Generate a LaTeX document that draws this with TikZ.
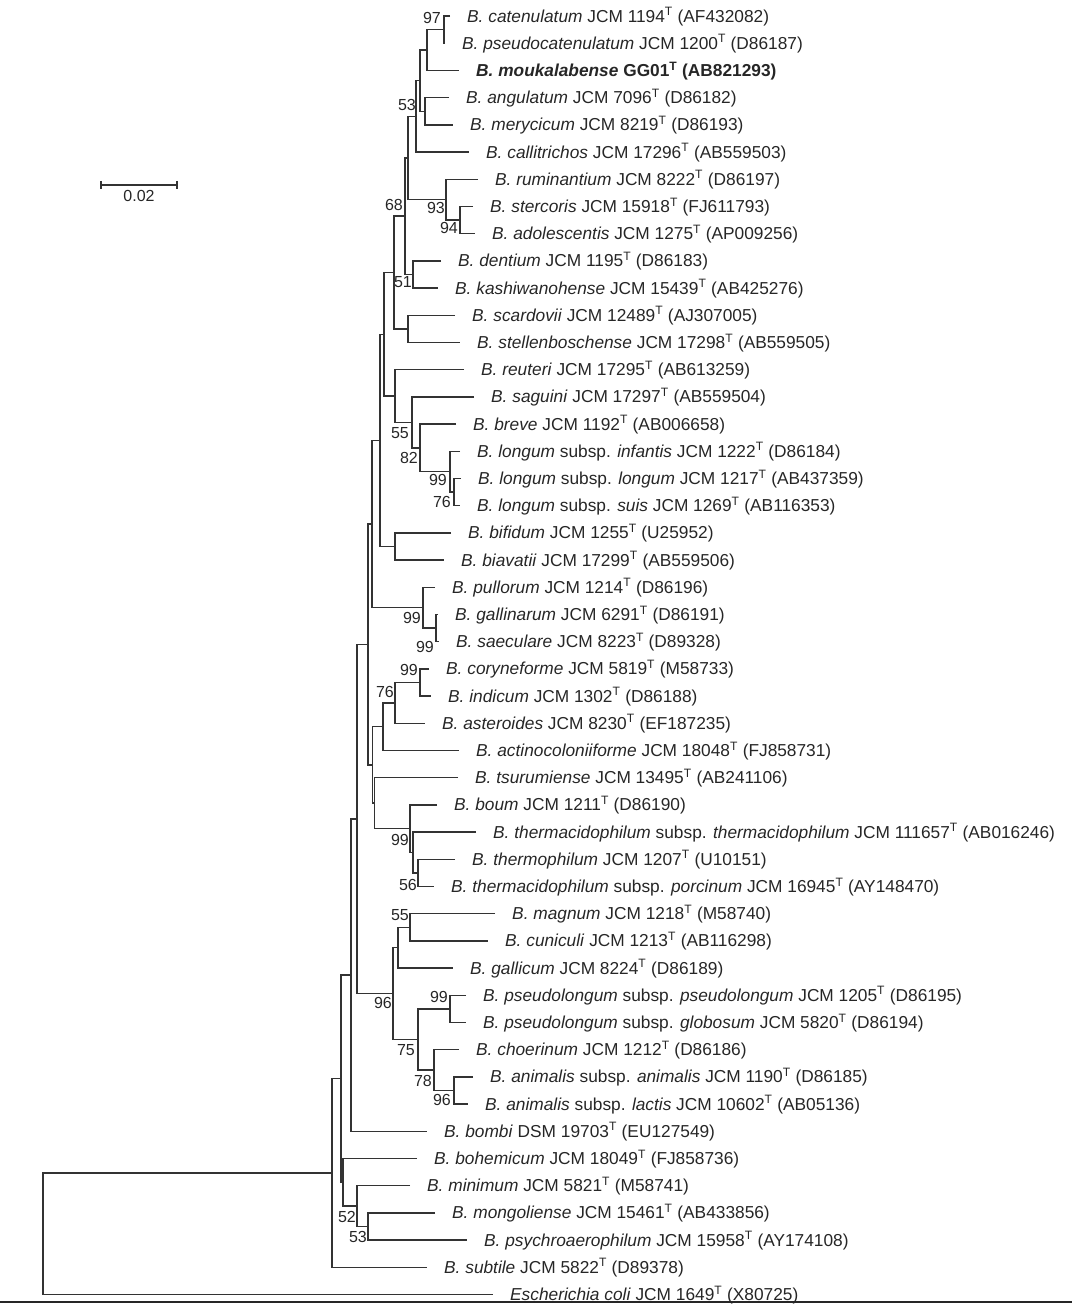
\documentclass[tikz,border=0pt]{standalone}
\usepackage{fontspec}
\setmainfont{Liberation Sans}
\usepackage{tikz}
\usetikzlibrary{positioning}
\tikzstyle{leaf} = [anchor=west, inner xsep=17pt, inner ysep=0pt, text height=12pt, text depth=0pt, font=\fontsize{17.3}{19}\selectfont, text=black!85]
\tikzstyle{bs} = [anchor=east, inner sep=0pt, font=\fontsize{16}{18}\selectfont, text=black!85]
\tikzstyle{branch} = [line width=1.4pt, draw=black!80]
\newcommand{\ty}{\textsuperscript{T}}

\begin{document}
\begin{tikzpicture}[x=1pt, y=-27.2pt]

\path [use as bounding box] (0,0.4118) rectangle (1072,48.426);

% leaves
\node (cat) [leaf] at (450,1) {\textit{B. catenulatum} JCM 1194\ty{} (AF432082)};
\node (pcat) [leaf] at (445,2) {\textit{B. pseudocatenulatum} JCM 1200\ty{} (D86187)};
\node (mouk) [leaf] at (459,3) {\textbf{\textit{B. moukalabense} GG01\ty{} (AB821293)}};
\node (ang) [leaf] at (449,4) {\textit{B. angulatum} JCM 7096\ty{} (D86182)};
\node (mery) [leaf] at (453,5) {\textit{B. merycicum} JCM 8219\ty{} (D86193)};
\node (call) [leaf] at (469,6) {\textit{B. callitrichos} JCM 17296\ty{} (AB559503)};
\node (rum) [leaf] at (478,7) {\textit{B. ruminantium} JCM 8222\ty{} (D86197)};
\node (ster) [leaf] at (473,8) {\textit{B. stercoris} JCM 15918\ty{} (FJ611793)};
\node (adol) [leaf] at (475,9) {\textit{B. adolescentis} JCM 1275\ty{} (AP009256)};
\node (dent) [leaf] at (441,10) {\textit{B. dentium} JCM 1195\ty{} (D86183)};
\node (kash) [leaf] at (438,11) {\textit{B. kashiwanohense} JCM 15439\ty{} (AB425276)};
\node (scard) [leaf] at (455,12) {\textit{B. scardovii} JCM 12489\ty{} (AJ307005)};
\node (stell) [leaf] at (460,13) {\textit{B. stellenboschense} JCM 17298\ty{} (AB559505)};
\node (reut) [leaf] at (464,14) {\textit{B. reuteri} JCM 17295\ty{} (AB613259)};
\node (sagu) [leaf] at (474,15) {\textit{B. saguini} JCM 17297\ty{} (AB559504)};
\node (breve) [leaf] at (456,16) {\textit{B. breve} JCM 1192\ty{} (AB006658)};
\node (linf) [leaf] at (460,17) {\textit{B. longum} subsp. \textit{infantis} JCM 1222\ty{} (D86184)};
\node (llon) [leaf] at (461,18) {\textit{B. longum} subsp. \textit{longum} JCM 1217\ty{} (AB437359)};
\node (lsuis) [leaf] at (460,19) {\textit{B. longum} subsp. \textit{suis} JCM 1269\ty{} (AB116353)};
\node (bifid) [leaf] at (451,20) {\textit{B. bifidum} JCM 1255\ty{} (U25952)};
\node (biav) [leaf] at (444,21) {\textit{B. biavatii} JCM 17299\ty{} (AB559506)};
\node (pull) [leaf] at (435,22) {\textit{B. pullorum} JCM 1214\ty{} (D86196)};
\node (gall) [leaf] at (438,23) {\textit{B. gallinarum} JCM 6291\ty{} (D86191)};
\node (saec) [leaf] at (439,24) {\textit{B. saeculare} JCM 8223\ty{} (D89328)};
\node (cory) [leaf] at (429,25) {\textit{B. coryneforme} JCM 5819\ty{} (M58733)};
\node (indi) [leaf] at (431,26) {\textit{B. indicum} JCM 1302\ty{} (D86188)};
\node (aster) [leaf] at (425,27) {\textit{B. asteroides} JCM 8230\ty{} (EF187235)};
\node (actin) [leaf] at (459,28) {\textit{B. actinocoloniiforme} JCM 18048\ty{} (FJ858731)};
\node (tsur) [leaf] at (458,29) {\textit{B. tsurumiense} JCM 13495\ty{} (AB241106)};
\node (boum) [leaf] at (437,30) {\textit{B. boum} JCM 1211\ty{} (D86190)};
\node (tth) [leaf] at (476,31) {\textit{B. thermacidophilum} subsp. \textit{thermacidophilum} JCM 111657\ty{} (AB016246)};
\node (thph) [leaf] at (455,32) {\textit{B. thermophilum} JCM 1207\ty{} (U10151)};
\node (tpor) [leaf] at (434,33) {\textit{B. thermacidophilum} subsp. \textit{porcinum} JCM 16945\ty{} (AY148470)};
\node (magn) [leaf] at (495,34) {\textit{B. magnum} JCM 1218\ty{} (M58740)};
\node (cuni) [leaf] at (488,35) {\textit{B. cuniculi} JCM 1213\ty{} (AB116298)};
\node (galc) [leaf] at (453,36) {\textit{B. gallicum} JCM 8224\ty{} (D86189)};
\node (pspl) [leaf] at (466,37) {\textit{B. pseudolongum} subsp. \textit{pseudolongum} JCM 1205\ty{} (D86195)};
\node (psgl) [leaf] at (466,38) {\textit{B. pseudolongum} subsp. \textit{globosum} JCM 5820\ty{} (D86194)};
\node (choe) [leaf] at (459,39) {\textit{B. choerinum} JCM 1212\ty{} (D86186)};
\node (anan) [leaf] at (473,40) {\textit{B. animalis} subsp. \textit{animalis} JCM 1190\ty{} (D86185)};
\node (anla) [leaf] at (468,41) {\textit{B. animalis} subsp. \textit{lactis} JCM 10602\ty{} (AB05136)};
\node (bomb) [leaf] at (427,42) {\textit{B. bombi} DSM 19703\ty{} (EU127549)};
\node (bohe) [leaf] at (417,43) {\textit{B. bohemicum} JCM 18049\ty{} (FJ858736)};
\node (mini) [leaf] at (410,44) {\textit{B. minimum} JCM 5821\ty{} (M58741)};
\node (mong) [leaf] at (435,45) {\textit{B. mongoliense} JCM 15461\ty{} (AB433856)};
\node (psyc) [leaf] at (467,46) {\textit{B. psychroaerophilum} JCM 15958\ty{} (AY174108)};
\node (subt) [leaf] at (427,47) {\textit{B. subtile} JCM 5822\ty{} (D89378)};
\node (ecoli) [leaf] at (493,48) {\textit{Escherichia coli} JCM 1649\ty{} (X80725)};

% internal nodes
\coordinate (n97) at (444,1.5);
\coordinate (nA) at (427,2.25);
\coordinate (nB) at (425,4.5);
\coordinate (n53) at (420,3.375);
\coordinate (nC) at (416,4.6875);
\coordinate (n94) at (460,8.5);
\coordinate (n93) at (446,7.75);
\coordinate (nD) at (408,6.219);
\coordinate (n51) at (413,10.5);
\coordinate (n68) at (405,8.359);
\coordinate (nE) at (408,12.5);
\coordinate (nF) at (394,10.43);
\coordinate (n76) at (454,18.5);
\coordinate (n99a) at (450,17.75);
\coordinate (n82) at (420,16.875);
\coordinate (n55) at (412,15.94);
\coordinate (nG) at (395,14.97);
\coordinate (nH) at (384,12.70);
\coordinate (nJ) at (395,20.5);
\coordinate (nI) at (380,16.6);
\coordinate (n99d) at (436,23.5);
\coordinate (n99c) at (423,22.75);
\coordinate (nK) at (372,19.675);
\coordinate (n99f) at (420,25.5);
\coordinate (n76b) at (395,26.25);
\coordinate (nO) at (383,27.125);
\coordinate (n56) at (418,32.5);
\coordinate (nP) at (413,31.75);
\coordinate (n99e) at (410,30.875);
\coordinate (nN2) at (374.5,29.94);
\coordinate (nN1) at (372.5,28.53);
\coordinate (nL) at (368,24.1);
\coordinate (n55b) at (410,34.5);
\coordinate (nQ) at (398,35.25);
\coordinate (n99g) at (450,37.5);
\coordinate (n96b) at (454,40.5);
\coordinate (n78) at (434,39.75);
\coordinate (n75) at (418,38.625);
\coordinate (n96) at (393,36.94);
\coordinate (nM) at (357,30.52);
\coordinate (nR) at (351,36.26);
\coordinate (n53b) at (368,45.5);
\coordinate (n52) at (357,44.75);
\coordinate (nT) at (343,43.875);
\coordinate (nS) at (341,40.07);
\coordinate (nU) at (332,43.53);
\coordinate (root) at (43,45.77);

% branches
\draw [branch] (cat.west) -| (n97) |- (pcat.west);
\draw [branch] (n97) -| (nA) |- (mouk.west);
\draw [branch] (ang.west) -| (nB) |- (mery.west);
\draw [branch] (nA) -| (n53) |- (nB);
\draw [branch] (n53) -| (nC) |- (call.west);
\draw [branch] (ster.west) -| (n94) |- (adol.west);
\draw [branch] (rum.west) -| (n93) |- (n94);
\draw [branch] (nC) -| (nD) |- (n93);
\draw [branch] (dent.west) -| (n51) |- (kash.west);
\draw [branch] (nD) -| (n68) |- (n51);
\draw [branch] (scard.west) -| (nE) |- (stell.west);
\draw [branch] (n68) -| (nF) |- (nE);
\draw [branch] (llon.west) -| (n76) |- (lsuis.west);
\draw [branch] (linf.west) -| (n99a) |- (n76);
\draw [branch] (breve.west) -| (n82) |- (n99a);
\draw [branch] (sagu.west) -| (n55) |- (n82);
\draw [branch] (reut.west) -| (nG) |- (n55);
\draw [branch] (nF) -| (nH) |- (nG);
\draw [branch] (bifid.west) -| (nJ) |- (biav.west);
\draw [branch] (nH) -| (nI) |- (nJ);
\draw [branch] (gall.west) -| (n99d) |- (saec.west);
\draw [branch] (pull.west) -| (n99c) |- (n99d);
\draw [branch] (nI) -| (nK) |- (n99c);
\draw [branch] (cory.west) -| (n99f) |- (indi.west);
\draw [branch] (n99f) -| (n76b) |- (aster.west);
\draw [branch] (n76b) -| (nO) |- (actin.west);
\draw [branch] (thph.west) -| (n56) |- (tpor.west);
\draw [branch] (tth.west) -| (nP) |- (n56);
\draw [branch] (boum.west) -| (n99e) |- (nP);
\draw [branch] (tsur.west) -| (nN2) |- (n99e);
\draw [branch] (nO) -| (nN1) |- (nN2);
\draw [branch] (nK) -| (nL) |- (nN1);
\draw [branch] (magn.west) -| (n55b) |- (cuni.west);
\draw [branch] (n55b) -| (nQ) |- (galc.west);
\draw [branch] (pspl.west) -| (n99g) |- (psgl.west);
\draw [branch] (anan.west) -| (n96b) |- (anla.west);
\draw [branch] (choe.west) -| (n78) |- (n96b);
\draw [branch] (n99g) -| (n75) |- (n78);
\draw [branch] (nQ) -| (n96) |- (n75);
\draw [branch] (nL) -| (nM) |- (n96);
\draw [branch] (nM) -| (nR) |- (bomb.west);
\draw [branch] (mong.west) -| (n53b) |- (psyc.west);
\draw [branch] (mini.west) -| (n52) |- (n53b);
\draw [branch] (bohe.west) -| (nT) |- (n52);
\draw [branch] (nR) -| (nS) |- (nT);
\draw [branch] (nS) -| (nU) |- (subt.west);
\draw [branch] (nU) -| (root) |- (ecoli.west);

% bootstrap values
\node (b97) [bs] at (441,1.07) {97};
\node (b53) [bs] at (416,4.27) {53};
\node (b68) [bs] at (403,7.95) {68};
\node (b93) [bs] at (445,8.06) {93};
\node (b94) [bs] at (458,8.8) {94};
\node (b51) [bs] at (412,10.78) {51};
\node (b55) [bs] at (409,16.33) {55};
\node (b82) [bs] at (418,17.25) {82};
\node (b99a) [bs] at (447,18.06) {99};
\node (b76) [bs] at (451,18.87) {76};
\node (b99c) [bs] at (421,23.13) {99};
\node (b99d) [bs] at (434,24.2) {99};
\node (b99f) [bs] at (418,25.04) {99};
\node (b76b) [bs] at (394,25.85) {76};
\node (b99e) [bs] at (409,31.29) {99};
\node (b56) [bs] at (417,32.95) {56};
\node (b55b) [bs] at (409,34.05) {55};
\node (b99g) [bs] at (448,37.07) {99};
\node (b96) [bs] at (392,37.29) {96};
\node (b75) [bs] at (415,39.01) {75};
\node (b78) [bs] at (432,40.15) {78};
\node (b96b) [bs] at (451,40.85) {96};
\node (b52) [bs] at (356,45.15) {52};
\node (b53b) [bs] at (367,45.89) {53};

% scale bar
\coordinate (sbl) at (101,7.213);
\coordinate (sbr) at (177,7.213);
\coordinate (sbm) at (139,7.213);
\draw [branch] (sbl) -- (sbr);
\draw [branch] ([yshift=4pt]sbl) -- ([yshift=-4pt]sbl);
\draw [branch] ([yshift=4pt]sbr) -- ([yshift=-4pt]sbr);
\node (sbtxt) [below=5pt of sbm, inner sep=0pt, font=\fontsize{16}{18}\selectfont, text=black!85] {0.02};

% bottom rule
\coordinate (rl) at (0,48.28);
\coordinate (rr) at (1072,48.28);
\draw [line width=2pt, black!85] (rl) -- (rr);

\end{tikzpicture}
\end{document}
